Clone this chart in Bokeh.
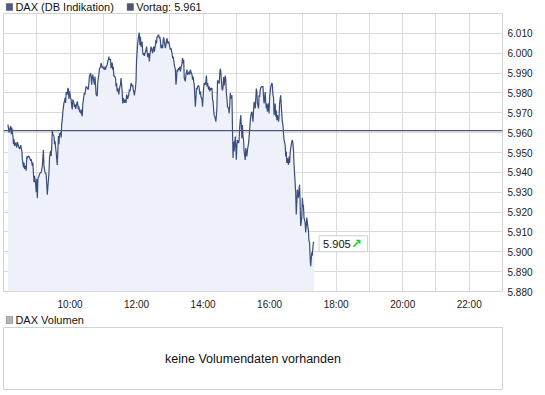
from bokeh.plotting import figure
from bokeh.models import Range1d, FixedTicker, Span, Label, BoxAnnotation
from bokeh.layouts import column
from bokeh.embed import file_html
from bokeh.resources import INLINE

# ---- data ----
# minutes after 08:00
minutes_after_8 = [
    8, 10, 12, 13, 14, 15, 17, 18, 19, 20, 22, 24, 25, 27, 29, 30, 31, 33, 34, 36,
    37, 38, 40, 41, 42, 43, 45, 47, 49, 50, 52, 53, 54, 55, 56, 58, 59, 60, 61, 62,
    64, 66, 68, 70, 71, 72, 73, 75, 77, 79, 80, 82, 83, 85, 86, 87, 88, 89, 91, 92,
    93, 94, 95, 97, 98, 99, 100, 101, 103, 104, 105, 106, 107, 109, 110, 111, 112, 113, 115, 116,
    117, 118, 119, 121, 122, 123, 124, 125, 127, 128, 129, 130, 131, 133, 134, 135, 136, 137, 139, 140,
    141, 142, 143, 145, 146, 147, 148, 149, 151, 153, 154, 155, 157, 158, 159, 160, 161, 163, 164, 165,
    166, 167, 169, 170, 171, 172, 173, 175, 176, 177, 178, 179, 181, 182, 183, 184, 185, 187, 188, 189,
    190, 191, 193,
    194, 196, 197, 198, 199, 200, 202, 203, 204, 205, 206, 208, 209, 210, 211, 212, 214, 215, 216, 217,
    218, 220, 221, 222, 223, 224, 226, 227, 228, 229, 230, 232, 233, 234, 235, 236, 238, 239, 240, 241,
    242, 244, 245, 246, 247, 248, 250, 251, 252, 253, 254, 256, 257, 258, 259, 260, 262, 263, 264, 265,
    266, 268, 269, 270, 271, 272, 274, 275, 276, 277, 278, 280, 281, 282, 283, 284, 286, 287, 288, 289,
    290, 292, 293, 294, 295, 296, 298, 299, 300, 301, 302, 304, 305, 306, 307, 308, 310, 311, 312, 313,
    314, 316, 317, 318, 319, 320, 322, 323, 324, 325, 326, 328, 329, 330, 331, 332, 334, 335, 336, 337,
    338, 340, 341, 342, 343, 344, 346, 347, 348, 349, 350, 352, 353, 354, 355, 356, 358, 359, 360, 361,
    362, 364, 365, 366, 367, 368, 370, 371, 372, 373, 374, 376, 377, 378, 379, 380,
    382, 383, 384, 385, 386, 388, 389, 390, 391, 392, 394, 395, 396, 397, 398, 400, 401, 402, 403, 404,
    406, 407, 408, 409, 410, 412, 413, 414, 415, 416, 418, 419, 420, 421, 422, 424, 425, 426, 427, 428,
    430, 431, 432, 433, 434, 436, 437, 438, 439, 440, 442, 443, 444, 445, 446, 448, 449, 450, 451, 452,
    454, 455, 456, 457, 458, 460, 461, 462, 463, 464, 466, 467, 468, 469, 470, 472, 473, 474, 475, 476,
    478, 479, 480, 481, 482, 484, 485, 486, 487, 488, 490, 491, 492, 493, 494, 496, 497, 498, 499, 500,
    502, 503, 504, 505, 506, 508, 509, 510, 511, 512, 514, 515, 516, 517, 518, 520, 521, 522, 523, 524,
    526, 527, 528, 529, 530, 532, 533, 534, 535, 536, 538, 539, 540, 541, 542, 544, 545, 546, 547, 548,
    550, 551, 552, 553, 554, 556, 557, 558, 559, 560, 562,
]
dax_values = [
    5964.0, 5960.0, 5962.5, 5963.3, 5959.2, 5962.5, 5958.3, 5954.2, 5956.7, 5953.3, 5955.0, 5952.5, 5955.3, 5953.3, 5951.7, 5952.5, 5953.7, 5950.8, 5946.7, 5942.5,
    5945.0, 5941.7, 5943.3, 5940.8, 5948.0, 5947.0, 5948.3, 5947.5, 5945.8, 5946.7, 5943.3, 5945.0, 5939.2, 5935.0, 5938.3, 5934.2, 5930.0, 5936.7, 5927.0, 5936.7,
    5938.3, 5939.7, 5940.0, 5943.3, 5947.5, 5951.3, 5943.3, 5939.7, 5939.2, 5928.7, 5932.5, 5939.7, 5947.5, 5950.8, 5948.3, 5953.3, 5961.2, 5959.2, 5958.3, 5954.2,
    5955.8, 5952.5, 5950.0, 5943.7, 5950.8, 5958.3, 5954.2, 5959.2, 5960.0, 5957.5, 5964.2, 5966.7, 5970.3, 5975.0, 5975.8, 5977.5, 5975.0, 5980.3, 5979.2, 5982.5,
    5981.7, 5977.0, 5980.8, 5977.5, 5976.7, 5973.3, 5971.7, 5976.7, 5975.0, 5973.0, 5974.2, 5972.0, 5973.0, 5975.8, 5974.2, 5971.7, 5973.3, 5970.8, 5970.0, 5971.7,
    5969.2, 5968.3, 5974.2, 5978.7, 5980.0, 5979.2, 5981.7, 5983.3, 5982.5, 5981.7, 5985.0, 5988.3, 5990.0, 5988.3, 5984.2, 5987.5, 5989.2, 5985.8, 5984.2, 5988.3,
    5984.2, 5979.2, 5978.3, 5985.0, 5987.5, 5989.2, 5992.0, 5993.3, 5995.0, 5994.2, 5992.5, 5993.3, 5992.0, 5991.7, 5993.3, 5991.7, 5993.0, 5994.2, 5995.8, 5996.7,
    5998.3, 5996.7, 5997.0,
    5992.5, 5995.3, 5991.7, 5993.3, 5988.3, 5988.7, 5987.5, 5983.3, 5985.0, 5980.8, 5982.5, 5979.2, 5981.7, 5983.3, 5984.2, 5987.5, 5980.8, 5974.7, 5977.5, 5976.7,
    5975.0, 5976.7, 5975.0, 5979.2, 5978.3, 5977.0, 5979.2, 5981.7, 5980.8, 5982.5, 5985.0, 5983.3, 5984.2, 5981.7, 5980.8, 5978.7, 5982.5, 5985.8, 5996.7, 6000.8,
    6005.0, 6009.2, 6010.3, 6004.2, 6008.3, 6003.3, 6005.8, 6000.8, 5999.2, 6000.0, 5998.7, 6000.8, 6001.7, 6003.3, 6000.8, 5998.0, 6000.0, 5995.8, 5999.2, 6000.8,
    6003.3, 6001.3, 6000.0, 6002.5, 6003.3, 6000.8, 6004.2, 6006.7, 6005.0, 6008.3, 6008.7, 6009.2, 6007.5, 6008.3, 6006.3, 6002.5, 6004.2, 6002.5, 6006.7, 6008.0,
    6005.8, 6002.5, 6004.2, 6006.7, 6007.5, 6005.0, 6005.8, 6004.2, 6003.3, 6001.7, 6002.5, 6000.0, 5997.5, 5998.3, 5996.7, 5994.2, 5991.7, 5984.2, 5986.7, 5991.7,
    5990.8, 5992.5, 5991.7, 5993.3, 5990.8, 5992.5, 5995.0, 5997.5, 5995.0, 5996.7, 5987.5, 5985.8, 5989.2, 5990.3, 5991.7, 5989.2, 5990.0, 5990.8, 5989.2, 5991.7,
    5990.8, 5989.2, 5986.7, 5988.3, 5985.8, 5984.2, 5973.0, 5976.7, 5982.5, 5981.7, 5983.3, 5983.7, 5982.5, 5979.2, 5980.8, 5978.3, 5976.7, 5973.0, 5978.3, 5982.5,
    5985.0, 5984.2, 5985.8, 5988.7, 5983.3, 5985.0, 5981.7, 5983.3, 5980.8, 5982.5, 5981.7, 5982.5, 5976.7, 5975.8, 5971.7, 5968.7,
    5967.2, 5965.5, 5968.8, 5973.0, 5986.3, 5985.5, 5984.7, 5989.7, 5992.2, 5990.5, 5982.2, 5981.3, 5983.0, 5988.0, 5983.8, 5988.8, 5986.3, 5979.7, 5977.2, 5973.0,
    5972.2, 5969.7, 5973.8, 5980.0, 5977.2, 5978.8, 5962.2, 5947.2, 5955.5, 5950.5, 5958.0, 5953.0, 5946.3, 5953.8, 5956.3, 5954.7, 5956.3, 5963.0, 5966.3, 5968.8,
    5957.2, 5963.8, 5958.0, 5956.3, 5950.5, 5946.3, 5952.2, 5949.7, 5948.0, 5951.3, 5954.7, 5958.0, 5961.3, 5965.5, 5968.8, 5970.5, 5968.0, 5965.5, 5971.3, 5975.5,
    5972.2, 5977.2, 5982.2, 5980.5, 5974.7, 5972.2, 5978.8, 5978.0, 5981.3, 5982.7, 5983.3, 5983.0, 5983.3, 5978.0, 5974.7, 5980.5, 5975.5, 5972.2, 5974.7, 5970.5,
    5974.7, 5969.7, 5978.0, 5980.5, 5983.0, 5985.0, 5983.8, 5978.8, 5978.0, 5968.8, 5974.7, 5968.0, 5971.3, 5966.3, 5968.8, 5965.5, 5968.0, 5974.7, 5977.2, 5978.8,
    5968.8, 5965.5, 5963.8, 5959.7, 5956.3, 5953.8, 5948.0, 5950.5, 5944.7, 5947.2, 5943.8, 5948.0, 5944.7, 5949.7, 5952.2, 5955.5, 5956.3, 5954.7, 5951.3, 5943.8,
    5934.7, 5929.7, 5918.8, 5924.7, 5931.3, 5927.2, 5931.3, 5933.8, 5924.7, 5913.0, 5917.2, 5927.2, 5923.8, 5923.0, 5917.2, 5914.7, 5909.7, 5913.0, 5917.2, 5914.7,
    5910.5, 5905.5, 5904.7, 5897.2, 5892.7, 5899.7, 5898.0, 5902.2, 5904.7, 5905.0,
]
vortag = 5961
y_ticks = [5880, 5890, 5900, 5910, 5920, 5930, 5940, 5950, 5960, 5970, 5980, 5990, 6000, 6010]
y_top = 6020
hour_grid = [9, 10, 11, 12, 13, 14, 15, 16, 17, 18, 19, 20, 21, 22]
hour_labels = [10, 12, 14, 16, 18, 20, 22]
x_start_hour, x_end_hour = 8, 23

FONT = "Liberation Sans"
W = 545


def de_fmt(v):
    v = int(round(v))
    return f"{v // 1000}.{v % 1000:03d}"


t = [x_start_hour * 60 + m for m in minutes_after_8]


def strip(height):
    # y runs downward from the strip's top edge (pixel-like coordinates)
    s = figure(width=W, height=height, x_range=Range1d(0, W), y_range=Range1d(height, 0),
               x_axis_location=None, y_axis_location=None,
               toolbar_location=None, output_backend="svg",
               min_border=0, outline_line_color=None,
               background_fill_color="white", border_fill_color="white")
    s.grid.visible = False
    return s


def legend_entry(fig, x, box_top, text_top, text, color):
    fig.add_layout(BoxAnnotation(left=x, right=x + 7, top=box_top, bottom=box_top + 7,
                                 fill_color=color, fill_alpha=1,
                                 line_color="#2a2a2a", line_width=1))
    fig.add_layout(Label(x=x + 10, y=text_top, text=text, text_font=FONT,
                         text_font_size="11px", text_color="#111111",
                         text_baseline="top", text_align="left"))


# ---- legend strip on top ----
top = strip(13)
legend_entry(top, 3, 3, 0, "DAX (DB Indikation)", "#4b5a86")
legend_entry(top, 135, 3, 0, "Vortag: " + de_fmt(vortag), "#505870")

# ---- main chart ----
p = figure(width=W, height=299,
           x_range=Range1d(x_start_hour * 60, x_end_hour * 60),
           y_range=Range1d(y_ticks[0], y_top),
           y_axis_location="right", toolbar_location=None, output_backend="svg",
           min_border_left=3, min_border_right=43, min_border_top=0, min_border_bottom=19,
           background_fill_color="white", border_fill_color="white",
           outline_line_color="#d2d2d2", outline_line_width=1)

p.varea(x=t, y1=y_ticks[0], y2=dax_values, fill_color="#eef1fa")
p.line(t, dax_values, line_color="#3b4d7e", line_width=1.2)
p.add_layout(Span(location=vortag, dimension="width", line_color="#4a5680", line_width=1.2))

p.xaxis.ticker = FixedTicker(ticks=[h * 60 for h in hour_grid])
p.xaxis.major_label_overrides = {h * 60: (f"{h}:00" if h in hour_labels else "") for h in hour_grid}
p.yaxis.ticker = FixedTicker(ticks=y_ticks)
p.yaxis.major_label_overrides = {v: de_fmt(v) for v in y_ticks}
for ax in (p.xaxis, p.yaxis):
    ax.axis_line_color = None
    ax.major_tick_line_color = None
    ax.minor_tick_line_color = None
    ax.major_tick_out = 0
    ax.major_tick_in = 0
    ax.minor_tick_out = 0
    ax.major_label_text_font = FONT
    ax.major_label_text_font_size = "10px"
    ax.major_label_text_color = "#1a1a1a"
p.xaxis.major_label_standoff = 7
p.yaxis.major_label_standoff = 5
p.grid.grid_line_color = "#dadada"
p.grid.grid_line_width = 1

# last price box
p.add_layout(Label(x=t[-1], y=dax_values[-1], x_offset=4, y_offset=-2,
                   text=de_fmt(dax_values[-1]), text_font=FONT, text_font_size="11px",
                   text_color="#111111", text_baseline="middle", text_align="left",
                   background_fill_color="white", border_line_color="#cfcfcf",
                   padding=dict(left=4, right=17, top=4, bottom=4)))
p.add_layout(Label(x=t[-1], y=dax_values[-1], x_offset=36, y_offset=-2,
                   text="\u2197", text_font="DejaVu Sans", text_font_size="13px",
                   text_font_style="bold", text_color="#18d018",
                   text_baseline="middle", text_align="left"))

# ---- volume legend strip ----
mid = strip(15)
legend_entry(mid, 3, 4, 1, "DAX Volumen", "#b4b4b4")

# ---- volume panel ----
v = figure(width=W, height=68, x_range=Range1d(0, 1), y_range=Range1d(0, 1),
           x_axis_location=None, y_axis_location=None,
           toolbar_location=None, output_backend="svg",
           min_border_left=3, min_border_right=43, min_border_top=0, min_border_bottom=6,
           background_fill_color="white", border_fill_color="white",
           outline_line_color="#d2d2d2", outline_line_width=1)
v.grid.visible = False
v.add_layout(Label(x=0.5, y=0.5, text="keine Volumendaten vorhanden",
                   text_font=FONT, text_font_size="12.5px", text_color="#111111",
                   text_align="center", text_baseline="middle"))

layout = column(top, p, mid, v, spacing=0)
open("out.html", "w").write(file_html(layout, INLINE))
